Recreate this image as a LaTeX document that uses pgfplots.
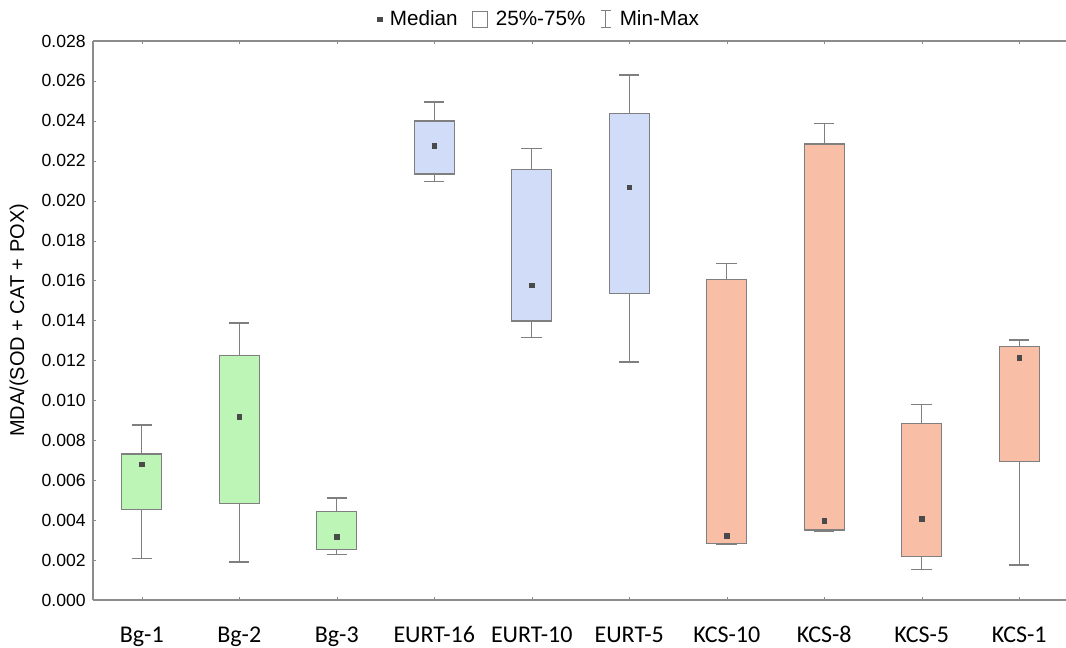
\documentclass[border=0pt]{standalone}
\usepackage{pgfplots}
\pgfplotsset{compat=1.18}
\usepgfplotslibrary{statistics}
\usepackage{fontspec}
\setmainfont{Liberation Sans}
\newfontfamily\calibri{Carlito}
\definecolor{bggreen}{HTML}{BDF5B6}
\definecolor{eublue}{HTML}{D0DCF8}
\definecolor{kcsred}{HTML}{F8BFA6}
\definecolor{edgegray}{HTML}{7F7F7F}
\definecolor{axgray}{HTML}{8C8C8C}
\definecolor{medgray}{HTML}{4A4A4A}
\begin{document}
\begin{tikzpicture}
% values are given in units of 0.001 (ratio x 1000); tick labels show the ratio
\begin{axis}[
  scale only axis,
  width=729.75pt, height=419.25pt,
  xmin=-0.5, xmax=9.48,
  ymin=0, ymax=28,
  axis x line*=box, axis y line*=left,
  axis line style={-, axgray, line width=0.9pt},
  xtick={0,...,9},
  xticklabels={Bg-1,Bg-2,Bg-3,EURT-16,EURT-10,EURT-5,KCS-10,KCS-8,KCS-5,KCS-1},
  xticklabel style={font=\calibri\fontsize{18}{20}\selectfont, yshift=-16.5pt, text height=12pt, text depth=3pt},
  ytick={0,2,...,28},
  yticklabel={\pgfmathparse{\tick/1000}\pgfmathprintnumber[fixed,fixed zerofill,precision=3,assume math mode=true]{\pgfmathresult}},
  yticklabel style={font=\fontsize{13.2}{15}\selectfont, xshift=-2pt},
  major tick length=2pt,
  tick style={axgray},
  ylabel={MDA/(SOD + CAT + POX)},
  ylabel style={font=\fontsize{15}{17}\selectfont, at={(axis description cs:-0.0761,0.5)}, anchor=center},
  boxplot/draw direction=y,
  boxplot/draw/median/.code={},
  boxplot/box extend=0.41,
  boxplot/whisker extend=0.21,
  legend columns=3,
  legend style={at={(0.459,1.039)}, anchor=center, draw=none, fill=none,
    font=\fontsize{15.5}{18}\selectfont, inner sep=0pt,
    /tikz/every odd column/.append style={column sep=4pt},
    /tikz/every even column/.append style={column sep=9pt}},
  legend cell align=left,
]
% Bg group
\addplot[boxplot prepared={draw position=0, lower whisker=2.09, lower quartile=4.54, median=6.80, upper quartile=7.31, upper whisker=8.77}, fill=bggreen, draw=edgegray, line width=1pt, forget plot] coordinates {};
\addplot[boxplot prepared={draw position=1, lower whisker=1.90, lower quartile=4.83, median=9.18, upper quartile=12.26, upper whisker=13.87}, fill=bggreen, draw=edgegray, line width=1pt, forget plot] coordinates {};
\addplot[boxplot prepared={draw position=2, lower whisker=2.29, lower quartile=2.52, median=3.16, upper quartile=4.42, upper whisker=5.11}, fill=bggreen, draw=edgegray, line width=1pt, forget plot] coordinates {};
% EURT group
\addplot[boxplot prepared={draw position=3, lower whisker=20.97, lower quartile=21.34, median=22.76, upper quartile=23.99, upper whisker=24.94}, fill=eublue, draw=edgegray, line width=1pt, forget plot] coordinates {};
\addplot[boxplot prepared={draw position=4, lower whisker=13.16, lower quartile=13.98, median=15.76, upper quartile=21.57, upper whisker=22.62}, fill=eublue, draw=edgegray, line width=1pt, forget plot] coordinates {};
\addplot[boxplot prepared={draw position=5, lower whisker=11.92, lower quartile=15.36, median=20.67, upper quartile=24.38, upper whisker=26.30}, fill=eublue, draw=edgegray, line width=1pt, forget plot] coordinates {};
% KCS group
\addplot[boxplot prepared={draw position=6, lower whisker=2.77, lower quartile=2.84, median=3.22, upper quartile=16.06, upper whisker=16.87}, fill=kcsred, draw=edgegray, line width=1pt, forget plot] coordinates {};
\addplot[boxplot prepared={draw position=7, lower whisker=3.46, lower quartile=3.51, median=3.97, upper quartile=22.84, upper whisker=23.88}, fill=kcsred, draw=edgegray, line width=1pt, forget plot] coordinates {};
\addplot[boxplot prepared={draw position=8, lower whisker=1.54, lower quartile=2.17, median=4.07, upper quartile=8.83, upper whisker=9.78}, fill=kcsred, draw=edgegray, line width=1pt, forget plot] coordinates {};
\addplot[boxplot prepared={draw position=9, lower whisker=1.75, lower quartile=6.93, median=12.14, upper quartile=12.69, upper whisker=13.02}, fill=kcsred, draw=edgegray, line width=1pt, forget plot] coordinates {};
% medians
\addplot[only marks, mark=square*, mark size=1.7pt, color=medgray, forget plot] coordinates {
(0,6.80) (1,9.18) (2,3.16) (3,22.76) (4,15.76)
(5,20.67) (6,3.22) (7,3.97) (8,4.07) (9,12.14)};
% legend
\addlegendimage{only marks, mark=square*, mark size=1.6pt, color=medgray}
\addlegendentry{Median}
\addlegendimage{legend image code/.code={\draw[edgegray, line width=0.7pt, fill=white] (0pt,-6pt) rectangle (11pt,6pt);}}
\addlegendentry{25\%-75\%}
\addlegendimage{legend image code/.code={\draw[edgegray, line width=0.7pt] (1pt,-6.5pt)--(9pt,-6.5pt) (5pt,-6.5pt)--(5pt,6.5pt) (1pt,6.5pt)--(9pt,6.5pt);}}
\addlegendentry{Min-Max}
\end{axis}
\pgfresetboundingbox
\path[use as bounding box] (-69.75pt,-36pt) rectangle (729.75pt,450pt);
\end{tikzpicture}
\end{document}
